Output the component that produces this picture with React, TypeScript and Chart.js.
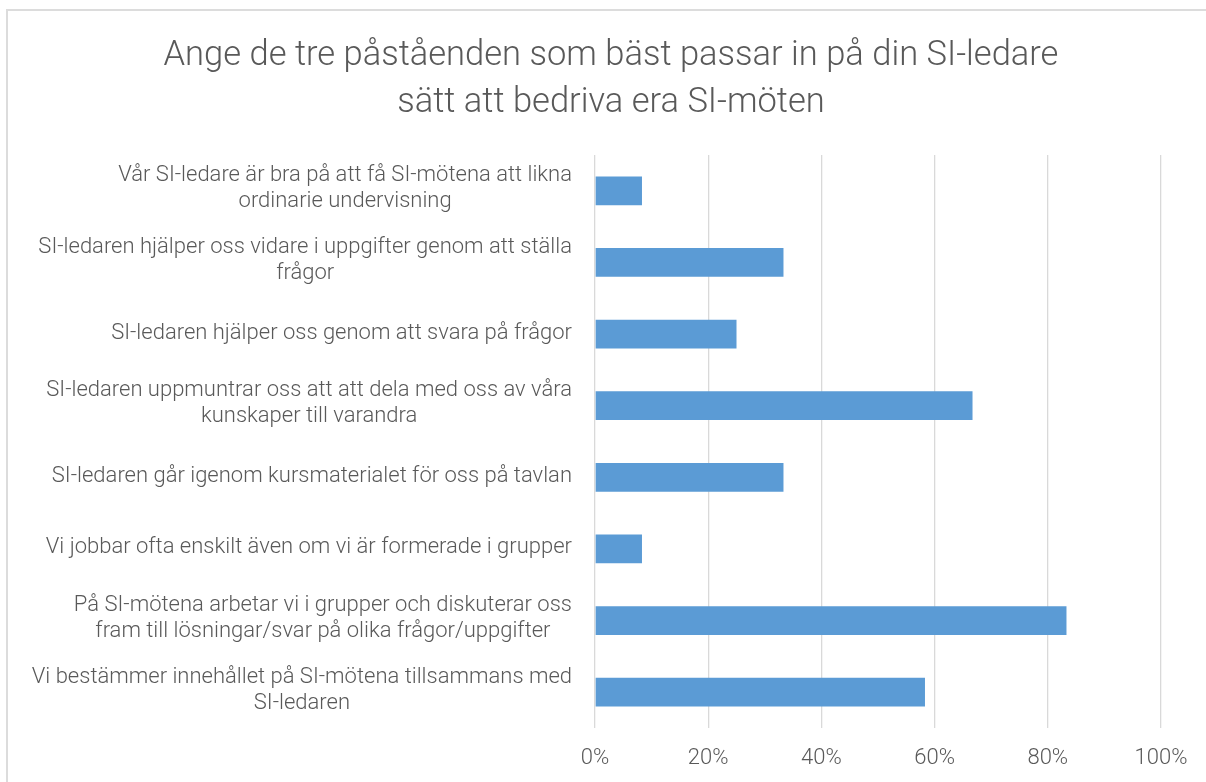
import React, { useEffect, useRef } from "react";
import { Chart, registerables } from "chart.js";

Chart.register(...registerables);

const titleLines: string[] = [
  "Ange de tre påståenden som bäst passar in på din SI-ledare",
  "sätt att bedriva era SI-möten",
];

const categories: (string | string[])[] = [
  ["Vår SI-ledare är bra på att få SI-mötena att likna", "ordinarie undervisning"],
  ["SI-ledaren hjälper oss vidare i uppgifter genom att ställa", "frågor"],
  "SI-ledaren hjälper oss genom att svara på frågor",
  ["SI-ledaren uppmuntrar oss att att dela med oss av våra", "kunskaper till varandra"],
  "SI-ledaren går igenom kursmaterialet för oss på tavlan",
  "Vi jobbar ofta enskilt även om vi är formerade i grupper",
  ["På SI-mötena arbetar vi i grupper och diskuterar oss", "fram till lösningar/svar på olika frågor/uppgifter"],
  ["Vi bestämmer innehållet på SI-mötena tillsammans med", "SI-ledaren"],
];

const values: number[] = [8.3, 33.3, 25.0, 66.7, 33.3, 8.3, 83.3, 58.3];

const xTickValues: number[] = [0, 20, 40, 60, 80, 100];

const TEXT = "#595959";
const GRID = "#D9D9D9";
const BAR = "#5B9BD5";
const FONT = "Roboto";

const centeredLabels = {
  id: "centeredLabels",
  afterDraw(chart: any) {
    const y = chart.scales.y;
    const ctx = chart.ctx;
    const area = chart.chartArea;
    ctx.save();
    ctx.font = `300 22px ${FONT}`;
    ctx.fillStyle = TEXT;
    ctx.textAlign = "center";
    ctx.textBaseline = "middle";
    const labels = chart.data.labels as (string | string[])[];
    labels.forEach((lab, i) => {
      const lines = Array.isArray(lab) ? lab : [lab];
      const widths = lines.map((l) => ctx.measureText(l).width);
      const block = Math.max(...widths);
      const right = area.left - 23;
      const cx = right - block / 2;
      const py = y.getPixelForTick(i);
      const n = lines.length;
      const off = n > 1 ? -2 : -1;
      lines.forEach((l, j) => {
        ctx.fillText(l, cx, py + off + (j - (n - 1) / 2) * 26);
      });
    });
    ctx.restore();
  },
};

export default function App() {
  const ref = useRef<HTMLCanvasElement | null>(null);
  useEffect(() => {
    if (!ref.current) return;
    const chart = new Chart(ref.current, {
      type: "bar",
      data: {
        labels: categories,
        datasets: [
          {
            data: values,
            backgroundColor: BAR,
            borderWidth: 0,
            barPercentage: 0.4,
            categoryPercentage: 1,
          },
        ],
      },
      options: {
        indexAxis: "y",
        animation: false,
        responsive: true,
        maintainAspectRatio: false,
        layout: { padding: { left: 53, right: 45, top: 0, bottom: 0 } },
        plugins: {
          legend: { display: false },
          tooltip: { enabled: false },
          title: {
            display: true,
            text: titleLines,
            color: TEXT,
            font: { family: FONT, size: 34.5, weight: "300" as any, lineHeight: 47 / 34.5 },
            padding: { top: 22, bottom: 28 },
          },
        },
        scales: {
          x: {
            min: 0,
            max: 100,
            afterBuildTicks: (axis: any) => {
              axis.ticks = xTickValues.map((v) => ({ value: v }));
            },
            afterFit: (axis: any) => {
              axis.height = 54;
            },
            grid: { color: GRID, lineWidth: 1.3, drawTicks: false },
            border: { display: false },
            ticks: {
              padding: 17,
              color: TEXT,
              font: { family: FONT, size: 22, weight: "300" as any },
              callback: (v: any) => `${v}%`,
            },
          },
          y: {
            afterFit: (axis: any) => {
              axis.width = 534;
            },
            grid: { display: false, drawTicks: false },
            border: { display: false },
            ticks: { display: false },
          },
        },
      },
      plugins: [centeredLabels],
    });
    return () => chart.destroy();
  }, []);

  return (
    <div style={{ position: "fixed", left: 0, top: 0, width: 1206, height: 782, overflow: "hidden", background: "#fff" }}>
      <div
        style={{
          position: "absolute",
          left: 6,
          top: 9,
          width: 1400,
          height: 1000,
          borderTop: "2px solid #DCDCDC",
          borderLeft: "2px solid #DCDCDC",
        }}
      />
      <div style={{ position: "absolute", left: 8, top: 11, width: 1198, height: 771 }}>
        <canvas ref={ref} />
      </div>
    </div>
  );
}
